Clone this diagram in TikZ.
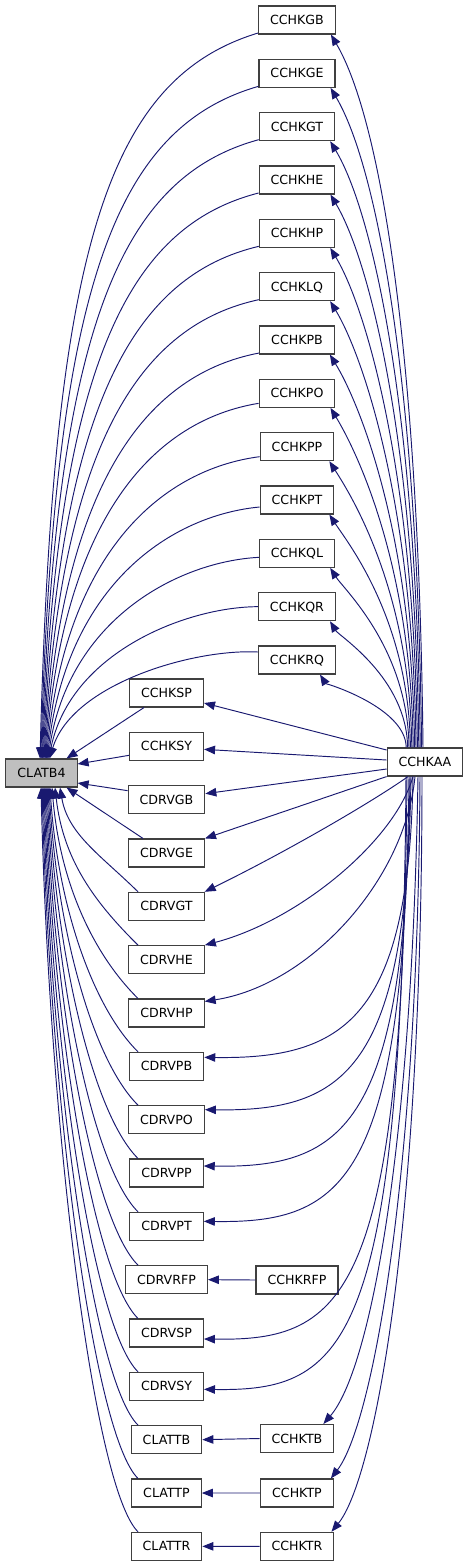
\documentclass[tikz,border=0pt]{standalone}
\usepackage{fontspec}
\setmainfont{DejaVu Sans}
\usetikzlibrary{arrows.meta,calc}
\definecolor{edgec}{HTML}{191970}
\definecolor{boxc}{HTML}{404040}
\definecolor{hl}{HTML}{BFBFBF}
\begin{document}
\begin{tikzpicture}[x=1pt,y=-1pt,
  box/.style={draw=boxc, line width=1.1pt, fill=white, minimum height=28pt,
    inner xsep=11.5pt, inner ysep=0pt, font=\fontsize{12.6}{14}\selectfont,
    text height=9pt, text depth=0pt},
  hbox/.style={box, fill=hl},
  conn/.style={draw=edgec, line width=0.95pt, -{Triangle[length=11pt,width=8.5pt]}},
]
\useasboundingbox (0,0) rectangle (469,1567);

% nodes
\node[hbox] (CLATB4) at (41.5,773) {CLATB4};
\node[box] (CCHKAA) at (425,762) {CCHKAA};
\foreach \n [count=\i from 0] in {CCHKGB,CCHKGE,CCHKGT,CCHKHE,CCHKHP,CCHKLQ,CCHKPB,CCHKPO,CCHKPP,CCHKPT,CCHKQL,CCHKQR,CCHKRQ}
  \node[box] (\n) at (297,20+53.333*\i) {\n};
\foreach \n [count=\i from 0] in {CCHKSP,CCHKSY,CDRVGB,CDRVGE,CDRVGT,CDRVHE,CDRVHP,CDRVPB,CDRVPO,CDRVPP,CDRVPT,CDRVRFP,CDRVSP,CDRVSY,CLATTB,CLATTP,CLATTR}
  \node[box] (\n) at (166.5,693+53.333*\i) {\n};
\node[box] (CCHKRFP) at (297,1280) {CCHKRFP};
\node[box] (CCHKTB) at (297,1438.5) {CCHKTB};
\node[box] (CCHKTP) at (297,1493) {CCHKTP};
\node[box] (CCHKTR) at (297,1546.3) {CCHKTR};

% right column -> CLATB4
\foreach \n/\k [count=\i from 0] in {CCHKGB/13,CCHKGE/13,CCHKGT/13,CCHKHE/13,CCHKHP/13,CCHKLQ/13,CCHKPB/13,CCHKPO/10,CCHKPP/10,CCHKPT/7,CCHKQL/4,CCHKQR/0,CCHKRQ/-8} {
  \pgfmathsetmacro\yo{20+53.333*\i+\k}
  \pgfmathsetmacro\d{759-\yo}
  \pgfmathsetmacro\ax{258-50-0.14*\d}
  \pgfmathsetmacro\ay{\yo+0.08*\d-12}
  \pgfmathsetmacro\bx{75-0.03*\d}
  \pgfmathsetmacro\by{\yo+0.3*\d}
  \pgfmathsetmacro\ex{40+0.8*\i-41.5}
  \draw[conn] ($(\n.west)+(0,\k)$) .. controls (\ax,\ay) and (\bx,\by) .. ($(CLATB4.north)+(\ex,0)$);
}

% CCHKAA -> right column
\foreach \n/\o [count=\i from 0] in {CCHKGB/-5,CCHKGE/-5,CCHKGT/-5,CCHKHE/-5,CCHKHP/-5,CCHKLQ/-5,CCHKPB/-5,CCHKPO/-5,CCHKPP/-5,CCHKPT/-5,CCHKQL/-5,CCHKQR/-6,CCHKRQ/-16} {
  \pgfmathsetmacro\sx{-2-1.4*\i}
  \pgfmathsetmacro\ey{20+53.333*\i+14}
  \pgfmathsetmacro\dy{748-\ey}
  \pgfmathsetmacro\ax{425+\sx-4*\dy/700}
  \pgfmathsetmacro\ay{748-0.55*\dy}
  \pgfmathsetmacro\bx{336+\o+0.07*\dy}
  \pgfmathsetmacro\by{\ey+0.12*\dy}
  \draw[conn] ($(CCHKAA.north)+(\sx,0)$) .. controls (\ax,\ay) and (\bx,\by) .. ($(\n.south east)+(\o,0)$);
}

% middle -> CLATB4 (straight)
\draw[conn] ($(CCHKSP.south west)+(15,0)$) -- ($(CLATB4.north)+(25,0)$);
\draw[conn] ($(CCHKSY.west)+(0,9)$) -- ($(CLATB4.east)+(0,-9)$);
\draw[conn] ($(CDRVGB.west)+(0,-9)$) -- ($(CLATB4.east)+(0,10)$);
\draw[conn] ($(CDRVGE.north west)+(15,0)$) -- ($(CLATB4.south)+(25,0)$);

% middle -> CLATB4 (curves)
\foreach \n/\ex [count=\i from 4] in {CDRVGT/60,CDRVHE/55,CDRVHP/52,CDRVPB/50,CDRVPO/49,CDRVPP/48,CDRVPT/47,CDRVRFP/46,CDRVSP/45,CDRVSY/44,CLATTB/43,CLATTP/42,CLATTR/41} {
  \pgfmathsetmacro\ty{693+53.333*\i-14}
  \pgfmathsetmacro\d{\ty-787}
  \pgfmathsetmacro\s{min(45,0.35*\d)}
  \pgfmathsetmacro\ax{138-\s}
  \pgfmathsetmacro\ay{\ty-\s}
  \pgfmathsetmacro\bx{\ex+8}
  \pgfmathsetmacro\by{\ty-0.55*\d}
  \pgfmathsetmacro\exx{\ex-41.5}
  \draw[conn] ($(\n.north)+(-28.5,0)$) .. controls (\ax,\ay) and (\bx,\by) .. ($(CLATB4.south)+(\exx,0)$);
}

% CCHKAA -> middle
\draw[conn] ($(CCHKAA.west)+(0,-12)$) -- ($(CCHKSP.east)+(0,10)$);
\draw[conn] ($(CCHKAA.west)+(0,-2)$) -- ($(CCHKSY.east)+(0,3)$);
\draw[conn] ($(CCHKAA.west)+(0,7)$) -- ($(CDRVGB.east)+(0,-6)$);
\draw[conn] (CCHKAA.south west) -- (CDRVGE.north east);
\draw[conn] ($(CCHKAA.south)+(-17,0)$) .. controls (375,800) and (290,850) .. (CDRVGT.north east);
\draw[conn] ($(CCHKAA.south)+(-12,0)$) .. controls (395,840) and (300,920) .. (CDRVHE.north east);
\draw[conn] ($(CCHKAA.south)+(-10,0)$) .. controls (405,880) and (310,985) .. ($(CDRVHP.north east)+(0,3)$);
\foreach \n/\off/\sx/\i in {CDRVPB/-9/413/7,CDRVPO/-10/411/8,CDRVPP/-7/410/9,CDRVPT/-5/409/10,CDRVSP/6/407/12,CDRVSY/3/406/13} {
  \pgfmathsetmacro\ey{693+53.333*\i+\off}
  \pgfmathsetmacro\ax{\sx-4}
  \pgfmathsetmacro\ay{\ey-40}
  \pgfmathsetmacro\by{\ey+2}
  \pgfmathsetmacro\st{\sx-425}
  \draw[conn] ($(CCHKAA.south)+(\st,0)$) .. controls (\ax,\ay) and (345,\by) .. ($(\n.east)+(0,\off)$);
}
\draw[conn] ($(CCHKAA.south)+(-7,0)$) .. controls (412,1150) and (370,1370) .. ($(CCHKTB.north east)+(-11,0)$);
\draw[conn] ($(CCHKAA.south)+(-5,0)$) .. controls (418,1180) and (372,1425) .. ($(CCHKTP.north east)+(-3,0)$);
\draw[conn] ($(CCHKAA.south)+(-3,0)$) .. controls (422,1230) and (374,1480) .. ($(CCHKTR.north east)+(-3,0)$);

% horizontal
\draw[conn] (CCHKRFP.west) -- (CDRVRFP.east);
\draw[conn] (CCHKTB.west) -- (CLATTB.east);
\draw[conn] (CCHKTP.west) -- (CLATTP.east);
\draw[conn] (CCHKTR.west) -- (CLATTR.east);
\end{tikzpicture}
\end{document}
